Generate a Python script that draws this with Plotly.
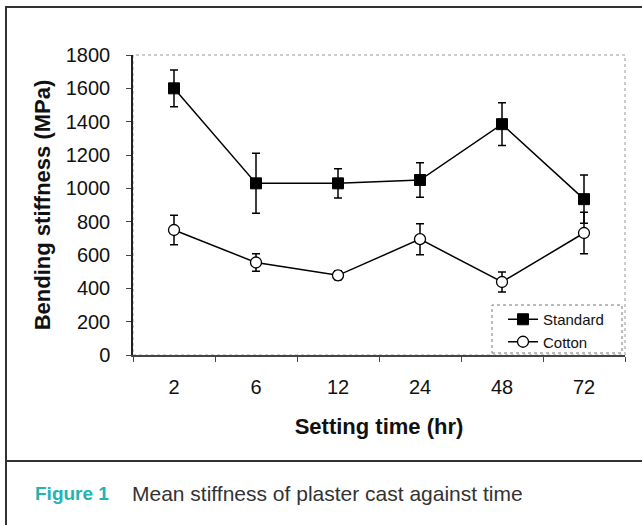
import plotly.graph_objects as go

# ---- data ----
setting_time = ["2", "6", "12", "24", "48", "72"]
standard_mean = [1600, 1030, 1030, 1050, 1385, 935]
standard_err = [110, 180, 88, 103, 128, 145]
cotton_mean = [750, 555, 478, 695, 438, 732]
cotton_err = [88, 53, 27, 93, 60, 125]
y_ticks = [0, 200, 400, 600, 800, 1000, 1200, 1400, 1600, 1800]

W, H = 642, 525
L, R, T, B = 133, 17, 55, 170
pw, ph = W - L - R, H - T - B


def px(x):
    return (x - L) / pw


def py(y):
    return (H - B - y) / ph


fig = go.Figure()
fig.add_trace(go.Scatter(
    x=setting_time, y=standard_mean, name="Standard", mode="lines+markers",
    line=dict(color="black", width=1.5),
    marker=dict(symbol="square", size=11, color="black", line=dict(color="black", width=1)),
    error_y=dict(type="data", array=standard_err, color="black", thickness=1.5, width=4),
))
fig.add_trace(go.Scatter(
    x=setting_time, y=cotton_mean, name="Cotton", mode="lines+markers",
    line=dict(color="black", width=1.5),
    marker=dict(symbol="circle", size=11, color="white", line=dict(color="black", width=1.3)),
    error_y=dict(type="data", array=cotton_err, color="black", thickness=1.5, width=4),
))

font_fam = "Arial, Liberation Sans, sans-serif"
cap_fam = "Liberation Sans, Arial, sans-serif"

shapes = [
    dict(type="rect", xref="paper", yref="paper", x0=0, x1=1, y0=0, y1=1,
         line=dict(color="#999999", width=1, dash="dot"), layer="below"),
    dict(type="rect", xref="paper", yref="paper", x0=px(492), x1=px(622), y0=py(353), y1=py(305),
         line=dict(color="#777777", width=1, dash="dot"), fillcolor="white", layer="below"),
    dict(type="line", xref="paper", yref="paper", x0=px(6), x1=px(6), y0=py(7), y1=py(540),
         line=dict(color="#333333", width=2)),
    dict(type="line", xref="paper", yref="paper", x0=px(5), x1=px(660), y0=py(7), y1=py(7),
         line=dict(color="#333333", width=2)),
    dict(type="line", xref="paper", yref="paper", x0=px(5), x1=px(660), y0=py(461), y1=py(461),
         line=dict(color="#333333", width=2)),
]

annotations = [
    dict(xref="paper", yref="paper", x=px(33), y=py(493), xanchor="left", yanchor="middle",
         text="<b>Figure 1</b>", showarrow=False,
         font=dict(family=cap_fam, size=19, color="#22b3b3")),
    dict(xref="paper", yref="paper", x=px(130), y=py(493), xanchor="left", yanchor="middle",
         text="Mean stiffness of plaster cast against time", showarrow=False,
         font=dict(family=cap_fam, size=21, color="#333333")),
]

fig.update_layout(
    width=W, height=H,
    margin=dict(l=L, r=R, t=T, b=B, pad=0),
    paper_bgcolor="white", plot_bgcolor="white",
    font=dict(family=font_fam, color="#111111"),
    showlegend=True,
    legend=dict(x=px(503), y=py(303), xanchor="left", yanchor="top",
                bgcolor="rgba(0,0,0,0)", borderwidth=0,
                font=dict(family=font_fam, size=15, color="#111111"),
                itemwidth=30, tracegroupgap=0),
    shapes=shapes,
    annotations=annotations,
)

fig.update_xaxes(
    type="category", categoryorder="array", categoryarray=setting_time,
    range=[-0.5, 5.5], showgrid=False, zeroline=False,
    showline=True, linecolor="#444444", linewidth=1.5,
    ticks="outside", tickson="boundaries", ticklen=5, tickcolor="#444444", tickwidth=1,
    tickfont=dict(family=font_fam, size=20, color="#111111"),
    ticklabelstandoff=13,
    title=dict(text="<b>Setting time (hr)</b>", font=dict(family=font_fam, size=22, color="#111111"), standoff=22),
)
fig.update_yaxes(
    range=[0, 1800], tickvals=y_ticks, showgrid=False, zeroline=False,
    showline=True, linecolor="#222222", linewidth=1.5,
    ticks="outside", ticklen=5, tickcolor="#444444", tickwidth=1,
    tickfont=dict(family=font_fam, size=20, color="#111111"),
    ticklabelstandoff=12,
    title=dict(text="<b>Bending stiffness (MPa)</b>", font=dict(family=font_fam, size=22, color="#111111"), standoff=9),
)

fig.write_html("out.html", config={"displayModeBar": False},
               post_script="document.body.style.margin='0';document.body.style.overflow='hidden';")
